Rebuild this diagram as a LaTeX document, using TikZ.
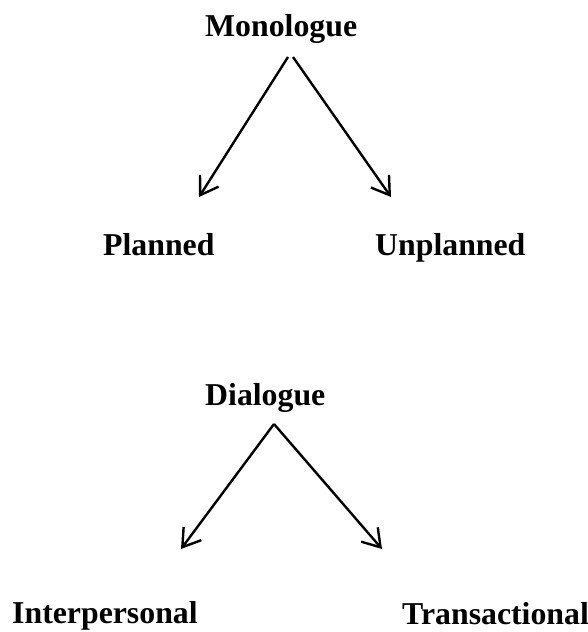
\documentclass[tikz,border=0pt]{standalone}
\usepackage{fontspec}
\setmainfont{Liberation Serif}
\usetikzlibrary{arrows.meta}
\tikzset{
  lbl/.style={anchor=base west, inner sep=0pt, font=\fontsize{31.8}{36}\selectfont\bfseries},
  conn/.style={line width=2.4pt, -{Straight Barb[length=17pt,width=22pt,line width=2.4pt]}}
}
\begin{document}
\begin{tikzpicture}[x=1pt,y=-1pt]
\useasboundingbox (0,0) rectangle (588,632);
\node[lbl] (mono) at (205,36) {Monologue};
\node[lbl] (plan) at (103,255) {Planned};
\node[lbl] (unplan) at (375,255) {Unplanned};
\node[lbl] (dia) at (205,405) {Dialogue};
\node[lbl] (inter) at (12,623) {Interpersonal};
\node[lbl] (trans) at (402,624) {Transactional};
\coordinate (m1) at (288,57);
\coordinate (m2) at (293,57);
\coordinate (pt) at (199,197);
\coordinate (ut) at (391,197);
\coordinate (d0) at (274,424);
\coordinate (it) at (181,549);
\coordinate (tt) at (382,549);
\draw[conn] (m1) -- (pt);
\draw[conn] (m2) -- (ut);
\draw[conn] (d0) -- (it);
\draw[conn] (d0) -- (tt);
\end{tikzpicture}
\end{document}
